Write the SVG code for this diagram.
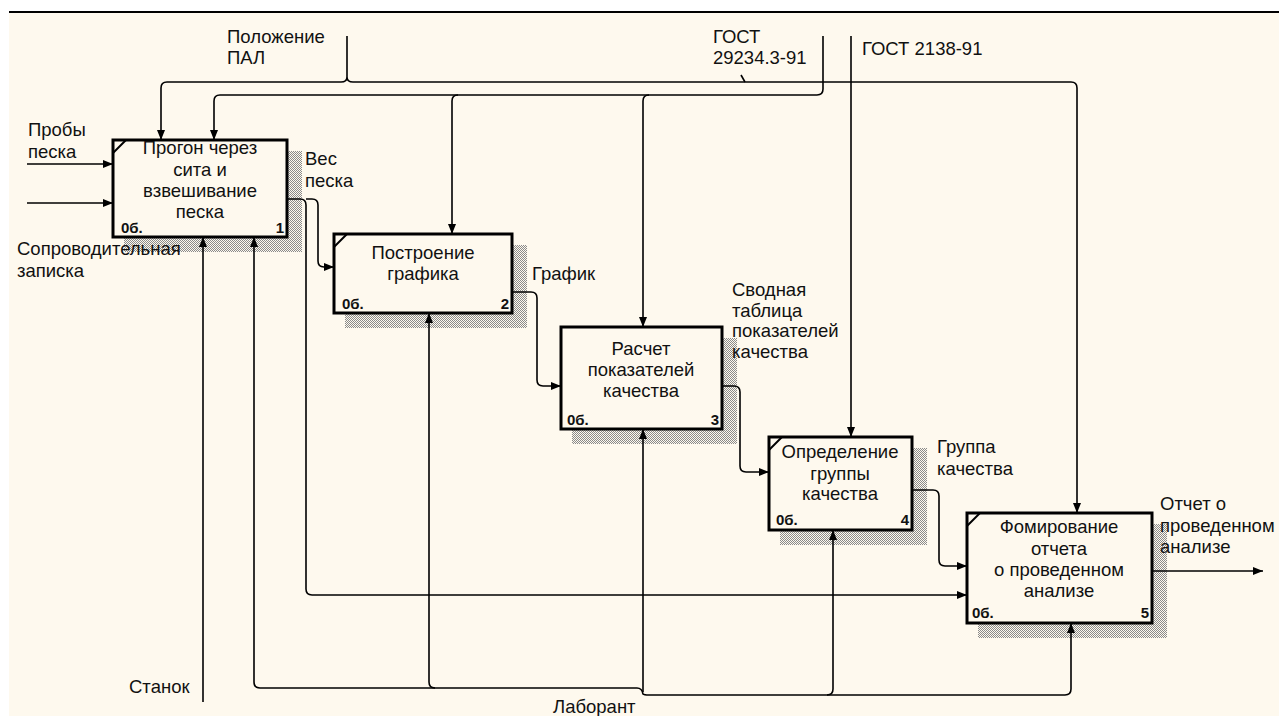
<svg xmlns="http://www.w3.org/2000/svg" width="1279" height="716" viewBox="0 0 1279 716">
<style>
.lbl{font-family:"Liberation Sans",Arial,sans-serif;font-size:18.5px;fill:#111}
.bt{font-family:"Liberation Sans",Arial,sans-serif;font-size:18.5px;fill:#111;text-anchor:middle}
.sm{font-family:"Liberation Sans",Arial,sans-serif;font-size:15px;font-weight:bold;fill:#111}
.smr{font-family:"Liberation Sans",Arial,sans-serif;font-size:15px;font-weight:bold;fill:#111;text-anchor:end}
.box{fill:#FEF9EE;stroke:#000;stroke-width:3}
.shd{fill:url(#hatch)}
.mk{stroke:#000;stroke-width:2;fill:none}
.c{fill:none;stroke:#000;stroke-width:1.6}
.a{marker-end:url(#arr)}
</style>
<defs>
<pattern id="hatch" width="2" height="2" patternUnits="userSpaceOnUse">
<rect width="2" height="2" fill="#FEF9EE"/>
<rect width="1" height="1" fill="#8a8a8a"/>
<rect x="1" y="1" width="1" height="1" fill="#8a8a8a"/>
</pattern>
<marker id="arr" viewBox="0 0 10 8" refX="10" refY="4" markerWidth="10" markerHeight="8" markerUnits="userSpaceOnUse" orient="auto">
<path d="M0,0 L10,4 L0,8 z" fill="#000"/>
</marker>
</defs>
<rect x="0" y="0" width="1279" height="716" fill="#fff"/>
<rect x="9" y="13" width="1270" height="703" fill="#FEF9EE"/>
<line x1="9" y1="12" x2="1279" y2="12" stroke="#000" stroke-width="2"/>

<g id="node1">
<rect class="shd" x="124" y="151" width="178" height="101"/>
<rect class="box" x="113" y="140" width="174" height="97"/>
<path class="mk" d="M113,153 L126,140"/>
<text class="bt" x="200" y="154">Прогон через</text>
<text class="bt" x="200" y="176">сита и</text>
<text class="bt" x="200" y="197">взвешивание</text>
<text class="bt" x="200" y="218">песка</text>
<text class="sm" x="121" y="233">0б.</text>
<text class="smr" x="284" y="233">1</text>
</g>

<g id="node2">
<rect class="shd" x="345" y="245" width="182" height="83"/>
<rect class="box" x="334" y="234" width="178" height="79"/>
<path class="mk" d="M334,247 L347,234"/>
<text class="bt" x="423" y="259">Построение</text>
<text class="bt" x="423" y="280">графика</text>
<text class="sm" x="342" y="309">0б.</text>
<text class="smr" x="509" y="309">2</text>
</g>

<g id="node3">
<rect class="shd" x="572" y="338" width="165" height="106"/>
<rect class="box" x="561" y="327" width="161" height="102"/>
<text class="bt" x="641" y="355">Расчет</text>
<text class="bt" x="641" y="376">показателей</text>
<text class="bt" x="641" y="397">качества</text>
<text class="sm" x="567" y="425">0б.</text>
<text class="smr" x="719" y="425">3</text>
</g>

<g id="node4">
<rect class="shd" x="780" y="448" width="147" height="97"/>
<rect class="box" x="769" y="437" width="143" height="93"/>
<path class="mk" d="M769,450 L782,437"/>
<text class="bt" x="840" y="458">Определение</text>
<text class="bt" x="840" y="480">группы</text>
<text class="bt" x="840" y="500">качества</text>
<text class="sm" x="776" y="525">0б.</text>
<text class="smr" x="909" y="525">4</text>
</g>

<g id="node5">
<rect class="shd" x="978" y="524" width="189" height="114"/>
<rect class="box" x="967" y="513" width="185" height="110"/>
<path class="mk" d="M967,526 L980,513"/>
<text class="bt" x="1059" y="533">Фомирование</text>
<text class="bt" x="1059" y="555">отчета</text>
<text class="bt" x="1059" y="576">о проведенном</text>
<text class="bt" x="1059" y="597">анализе</text>
<text class="sm" x="972" y="618">0б.</text>
<text class="smr" x="1149" y="618">5</text>
</g>

<g id="connectors">
<path class="c a" d="M27,164 H113"/>
<path class="c a" d="M27,203 H113"/>
<path class="c" d="M347,36 V77 Q347,82 341,82 M347,77 Q347,82 353,82"/>
<path class="c a" d="M341,82 H167 Q161,82 161,88 V140"/>
<path class="c a" d="M353,82 H1071 Q1077,82 1077,88 V513"/>
<path class="c a" d="M823,36 V89 Q823,95 817,95 H220 Q214,95 214,101 V140"/>
<path class="c a" d="M458,95 Q452,95 452,101 V234"/>
<path class="c a" d="M649,95 Q643,95 643,101 V327"/>
<path class="c" d="M741,75 L745,82"/>
<path class="c a" d="M851,36 V437"/>
<path class="c a" d="M287,199 H300 Q306,199 306,205 V589 Q306,595 312,595 H967"/>
<path class="c a" d="M306,199 H312 Q318,199 318,205 V261 Q318,267 324,267 H334"/>
<path class="c a" d="M512,292 H531 Q537,292 537,298 V380 Q537,386 543,386 H561"/>
<path class="c a" d="M722,386 H734 Q740,386 740,392 V466 Q740,472 746,472 H769"/>
<path class="c a" d="M912,490 H933 Q939,490 939,496 V560 Q939,566 945,566 H967"/>
<path class="c a" d="M1152,571 H1263"/>
<path class="c a" d="M203,702 V237"/>
<path class="c a" d="M260,688 Q254,688 254,682 V237"/>
<path class="c a" d="M435,688 Q429,688 429,682 V313"/>
<path class="c" d="M260,688 H637 Q642,688 643,694 Q644,695 649,695 H1065"/>
<path class="c a" d="M643,692 V429"/>
<path class="c a" d="M1065,695 Q1071,695 1071,689 V623"/>
<path class="c a" d="M827,695 Q833,695 833,689 V530"/>
</g>

<g id="labels">
<text class="lbl" x="227" y="43">Положение</text>
<text class="lbl" x="227" y="64">ПАЛ</text>
<text class="lbl" x="713" y="43">ГОСТ</text>
<text class="lbl" x="713" y="64">29234.3-91</text>
<text class="lbl" x="862" y="55">ГОСТ 2138-91</text>
<text class="lbl" x="28" y="136">Пробы</text>
<text class="lbl" x="28" y="158">песка</text>
<text class="lbl" x="305" y="165">Вес</text>
<text class="lbl" x="305" y="187">песка</text>
<text class="lbl" x="17" y="255">Сопроводительная</text>
<text class="lbl" x="17" y="277">записка</text>
<text class="lbl" x="532" y="280">График</text>
<text class="lbl" x="732" y="296">Сводная</text>
<text class="lbl" x="732" y="317">таблица</text>
<text class="lbl" x="732" y="337">показателей</text>
<text class="lbl" x="732" y="358">качества</text>
<text class="lbl" x="937" y="453">Группа</text>
<text class="lbl" x="937" y="475">качества</text>
<text class="lbl" x="1160" y="510">Отчет о</text>
<text class="lbl" x="1160" y="532">проведенном</text>
<text class="lbl" x="1160" y="553">анализе</text>
<text class="lbl" x="129" y="693">Станок</text>
<text class="lbl" x="553" y="713">Лаборант</text>
</g>
</svg>
